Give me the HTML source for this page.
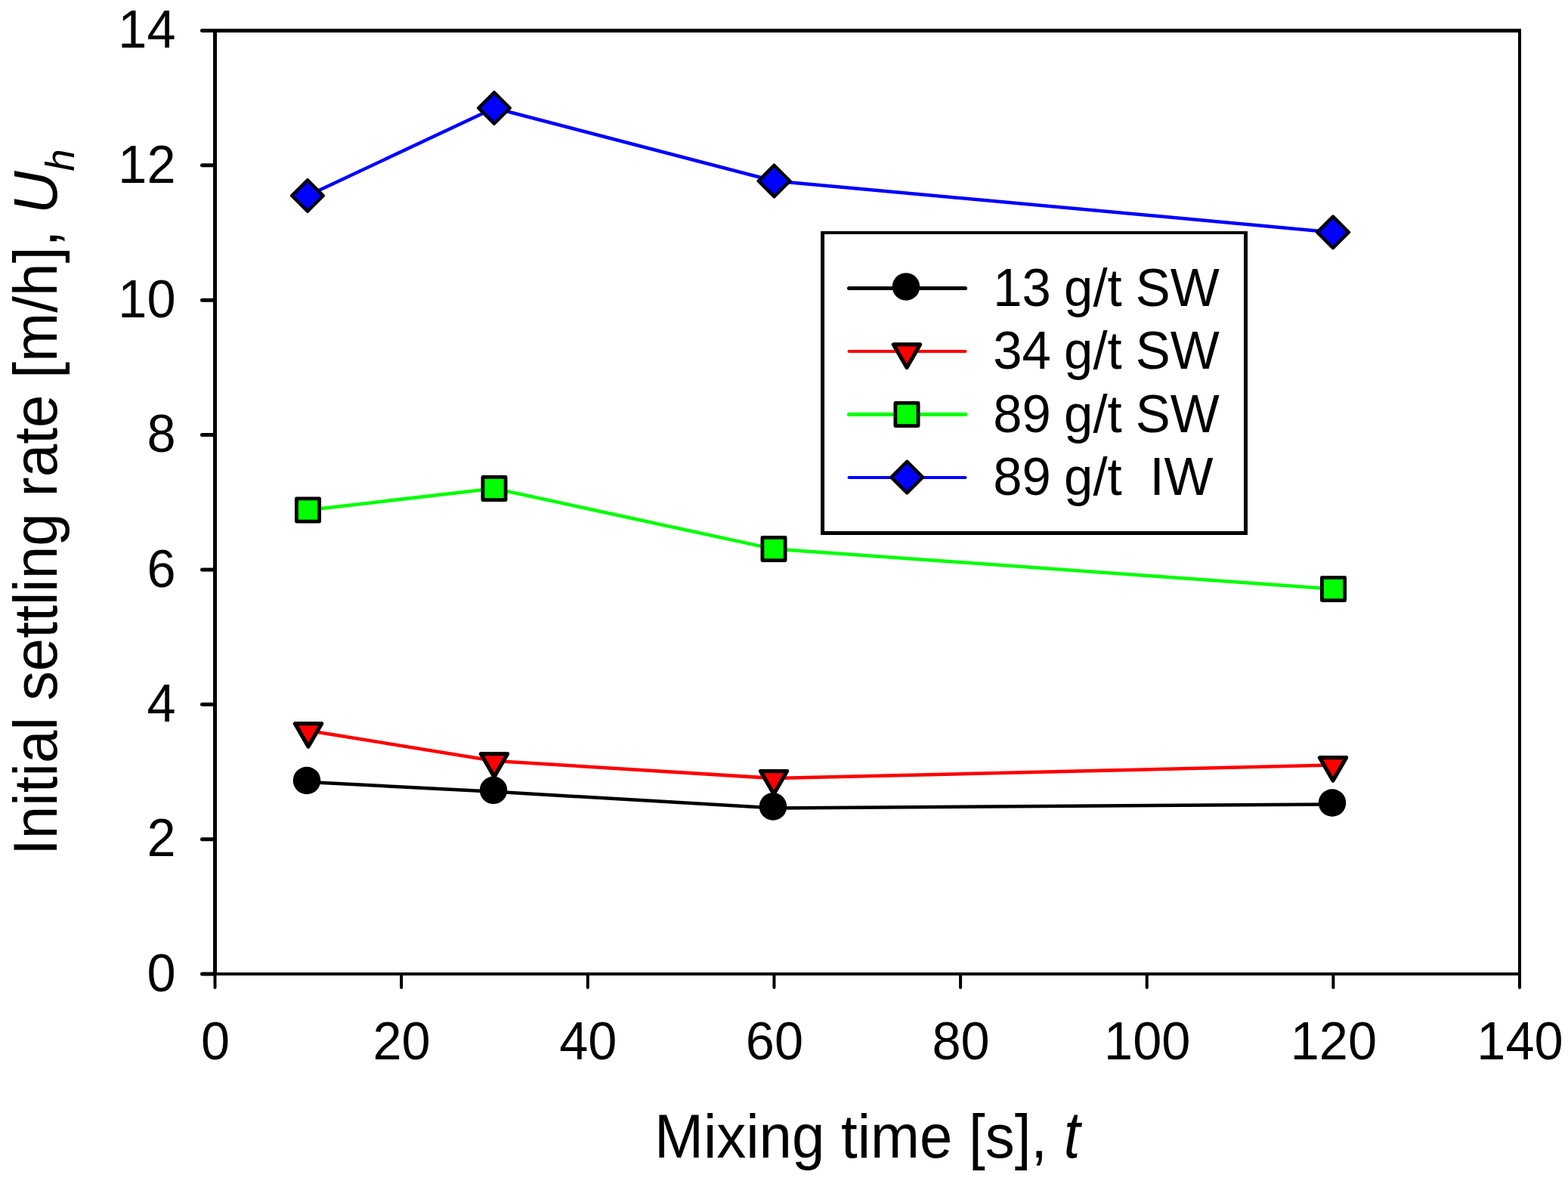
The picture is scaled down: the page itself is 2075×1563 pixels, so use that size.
<!DOCTYPE html>
<html><head><meta charset="utf-8"><title>Initial settling rate vs mixing time</title>
<style>
html,body{margin:0;padding:0;background:#fff;}
body{width:2075px;height:1563px;overflow:hidden;}
svg{display:block;}
text{font-family:"Liberation Sans",Arial,sans-serif;fill:#000;}
</style></head><body>
<svg width="2075" height="1563" viewBox="0 0 2075 1563">
<rect x="0" y="0" width="2075" height="1563" fill="#fff"/>
<g fill="#000" shape-rendering="crispEdges">
<rect x="282" y="38" width="5" height="1253"/>
<rect x="282" y="38" width="1731" height="5"/>
<rect x="2009" y="38" width="4" height="1253"/>
<rect x="282" y="1287" width="1731" height="4"/>
</g>
<g stroke="#000" stroke-linecap="round" fill="none">
<line x1="267.5" y1="1289.00" x2="284" y2="1289.00" stroke-width="5"/>
<line x1="267.5" y1="1110.64" x2="284" y2="1110.64" stroke-width="5"/>
<line x1="267.5" y1="932.29" x2="284" y2="932.29" stroke-width="5"/>
<line x1="267.5" y1="753.93" x2="284" y2="753.93" stroke-width="5"/>
<line x1="267.5" y1="575.57" x2="284" y2="575.57" stroke-width="5"/>
<line x1="267.5" y1="397.21" x2="284" y2="397.21" stroke-width="5"/>
<line x1="267.5" y1="218.86" x2="284" y2="218.86" stroke-width="5"/>
<line x1="267.5" y1="40.50" x2="284" y2="40.50" stroke-width="5"/>
<line x1="284.50" y1="1289" x2="284.50" y2="1307" stroke-width="4"/>
<line x1="531.14" y1="1289" x2="531.14" y2="1307" stroke-width="4"/>
<line x1="777.79" y1="1289" x2="777.79" y2="1307" stroke-width="4"/>
<line x1="1024.43" y1="1289" x2="1024.43" y2="1307" stroke-width="4"/>
<line x1="1271.07" y1="1289" x2="1271.07" y2="1307" stroke-width="4"/>
<line x1="1517.71" y1="1289" x2="1517.71" y2="1307" stroke-width="4"/>
<line x1="1764.36" y1="1289" x2="1764.36" y2="1307" stroke-width="4"/>
<line x1="2011.00" y1="1289" x2="2011.00" y2="1307" stroke-width="4"/>
</g>
<g font-size="68.5" text-anchor="end">
<text transform="translate(232.5,1311.6) scale(1,1.025)">0</text>
<text transform="translate(232.5,1133.2) scale(1,1.025)">2</text>
<text transform="translate(232.5,954.9) scale(1,1.025)">4</text>
<text transform="translate(232.5,776.5) scale(1,1.025)">6</text>
<text transform="translate(232.5,598.2) scale(1,1.025)">8</text>
<text transform="translate(232.5,419.8) scale(1,1.025)">10</text>
<text transform="translate(232.5,241.5) scale(1,1.025)">12</text>
<text transform="translate(232.5,63.1) scale(1,1.025)">14</text>
</g>
<g font-size="68.5" text-anchor="middle">
<text transform="translate(285.0,1402.0) scale(1,1.025)">0</text>
<text transform="translate(531.6,1402.0) scale(1,1.025)">20</text>
<text transform="translate(778.3,1402.0) scale(1,1.025)">40</text>
<text transform="translate(1024.9,1402.0) scale(1,1.025)">60</text>
<text transform="translate(1271.6,1402.0) scale(1,1.025)">80</text>
<text transform="translate(1518.2,1402.0) scale(1,1.025)">100</text>
<text transform="translate(1764.9,1402.0) scale(1,1.025)">120</text>
<text transform="translate(2011.5,1402.0) scale(1,1.025)">140</text>
</g>
<text transform="translate(866.0,1532.0) scale(1,1.035)" font-size="78">Mixing time [s],</text>
<text transform="translate(1407.66,1532.0) scale(1,1.1075)" font-size="78" font-style="italic">t</text>
<text transform="translate(75.0,1132.0) rotate(-90) scale(1.0045,1.035)" x="0" y="0" font-size="78">Initial settling rate [m/h], <tspan font-style="italic">U</tspan><tspan font-style="italic" font-size="52" dy="22">h</tspan></text>
<polyline points="407.8,1035 654.5,1047.8 1024.5,1069.4 1764.5,1064.5" fill="none" stroke="#000000" stroke-width="4.5" stroke-linejoin="round" stroke-linecap="round"/>
<circle cx="406" cy="1033" r="18.25" fill="#000"/>
<circle cx="653" cy="1045.8" r="18.25" fill="#000"/>
<circle cx="1023" cy="1067.4" r="18.25" fill="#000"/>
<circle cx="1763" cy="1062.5" r="18.25" fill="#000"/>
<polyline points="408,967 654,1007 1024,1030 1764,1012.5" fill="none" stroke="#ff0000" stroke-width="4.5" stroke-linejoin="round" stroke-linecap="round"/>
<polygon points="390.39,957.63 425.61,957.63 408.00,988.14" fill="#ff0000" stroke="#000" stroke-width="5.2" stroke-linejoin="round"/>
<polygon points="636.39,997.63 671.61,997.63 654.00,1028.14" fill="#ff0000" stroke="#000" stroke-width="5.2" stroke-linejoin="round"/>
<polygon points="1006.39,1020.53 1041.61,1020.53 1024.00,1051.04" fill="#ff0000" stroke="#000" stroke-width="5.2" stroke-linejoin="round"/>
<polygon points="1746.39,1002.63 1781.61,1002.63 1764.00,1033.14" fill="#ff0000" stroke="#000" stroke-width="5.2" stroke-linejoin="round"/>
<polyline points="407.5,675 654,646.5 1024,726.5 1764.5,779.5" fill="none" stroke="#00ff00" stroke-width="4.5" stroke-linejoin="round" stroke-linecap="round"/>
<rect x="392.40" y="659.90" width="30.20" height="30.20" fill="#00ff00" stroke="#000" stroke-width="4.8" stroke-linejoin="round"/>
<rect x="638.90" y="631.40" width="30.20" height="30.20" fill="#00ff00" stroke="#000" stroke-width="4.8" stroke-linejoin="round"/>
<rect x="1008.90" y="711.40" width="30.20" height="30.20" fill="#00ff00" stroke="#000" stroke-width="4.8" stroke-linejoin="round"/>
<rect x="1749.40" y="764.40" width="30.20" height="30.20" fill="#00ff00" stroke="#000" stroke-width="4.8" stroke-linejoin="round"/>
<polyline points="407,259 654,143 1024.5,239.5 1764,307.4" fill="none" stroke="#0000ff" stroke-width="4.5" stroke-linejoin="round" stroke-linecap="round"/>
<polygon points="407.00,238.20 427.80,259.00 407.00,279.80 386.20,259.00" fill="#0000ff" stroke="#000" stroke-width="4.4" stroke-linejoin="round"/>
<polygon points="654.00,122.20 674.80,143.00 654.00,163.80 633.20,143.00" fill="#0000ff" stroke="#000" stroke-width="4.4" stroke-linejoin="round"/>
<polygon points="1024.50,218.70 1045.30,239.50 1024.50,260.30 1003.70,239.50" fill="#0000ff" stroke="#000" stroke-width="4.4" stroke-linejoin="round"/>
<polygon points="1764.00,286.60 1784.80,307.40 1764.00,328.20 1743.20,307.40" fill="#0000ff" stroke="#000" stroke-width="4.4" stroke-linejoin="round"/>
<rect x="1086" y="306" width="565" height="402" fill="#fff"/>
<g fill="#000" shape-rendering="crispEdges"><rect x="1086" y="306" width="565" height="4"/><rect x="1086" y="703" width="565" height="5"/><rect x="1086" y="306" width="5" height="402"/><rect x="1646" y="306" width="5" height="402"/></g>
<line x1="1123.5" y1="381.5" x2="1277.5" y2="381.5" stroke="#000000" stroke-width="5" stroke-linecap="round"/>
<circle cx="1199" cy="379.4" r="18.25" fill="#000"/>
<text transform="translate(1314.3,405.0) scale(1,1.035)" font-size="68.9">13 <tspan dx="-2">g/t</tspan> <tspan dx="-1">SW</tspan></text>
<line x1="1123.5" y1="465" x2="1277.5" y2="465" stroke="#ff0000" stroke-width="4" stroke-linecap="round"/>
<polygon points="1182.39,455.93 1217.61,455.93 1200.00,486.44" fill="#ff0000" stroke="#000" stroke-width="5.2" stroke-linejoin="round"/>
<text transform="translate(1314.3,488.4) scale(1,1.035)" font-size="68.9">34 <tspan dx="-2">g/t</tspan> <tspan dx="-1">SW</tspan></text>
<line x1="1123.5" y1="548.5" x2="1277.5" y2="548.5" stroke="#00ff00" stroke-width="5" stroke-linecap="round"/>
<rect x="1184.90" y="533.40" width="30.20" height="30.20" fill="#00ff00" stroke="#000" stroke-width="4.8" stroke-linejoin="round"/>
<text transform="translate(1314.3,571.8) scale(1,1.035)" font-size="68.9">89 <tspan dx="-2">g/t</tspan> <tspan dx="-1">SW</tspan></text>
<line x1="1123.5" y1="632" x2="1277.5" y2="632" stroke="#0000ff" stroke-width="4" stroke-linecap="round"/>
<polygon points="1200.30,610.80 1221.10,631.60 1200.30,652.40 1179.50,631.60" fill="#0000ff" stroke="#000" stroke-width="4.4" stroke-linejoin="round"/>
<text transform="translate(1314.3,655.0) scale(1,1.035)" font-size="68.9">89 <tspan dx="-2">g/t</tspan>&#160; <tspan dx="-1.5">IW</tspan></text>
</svg>
</body></html>
